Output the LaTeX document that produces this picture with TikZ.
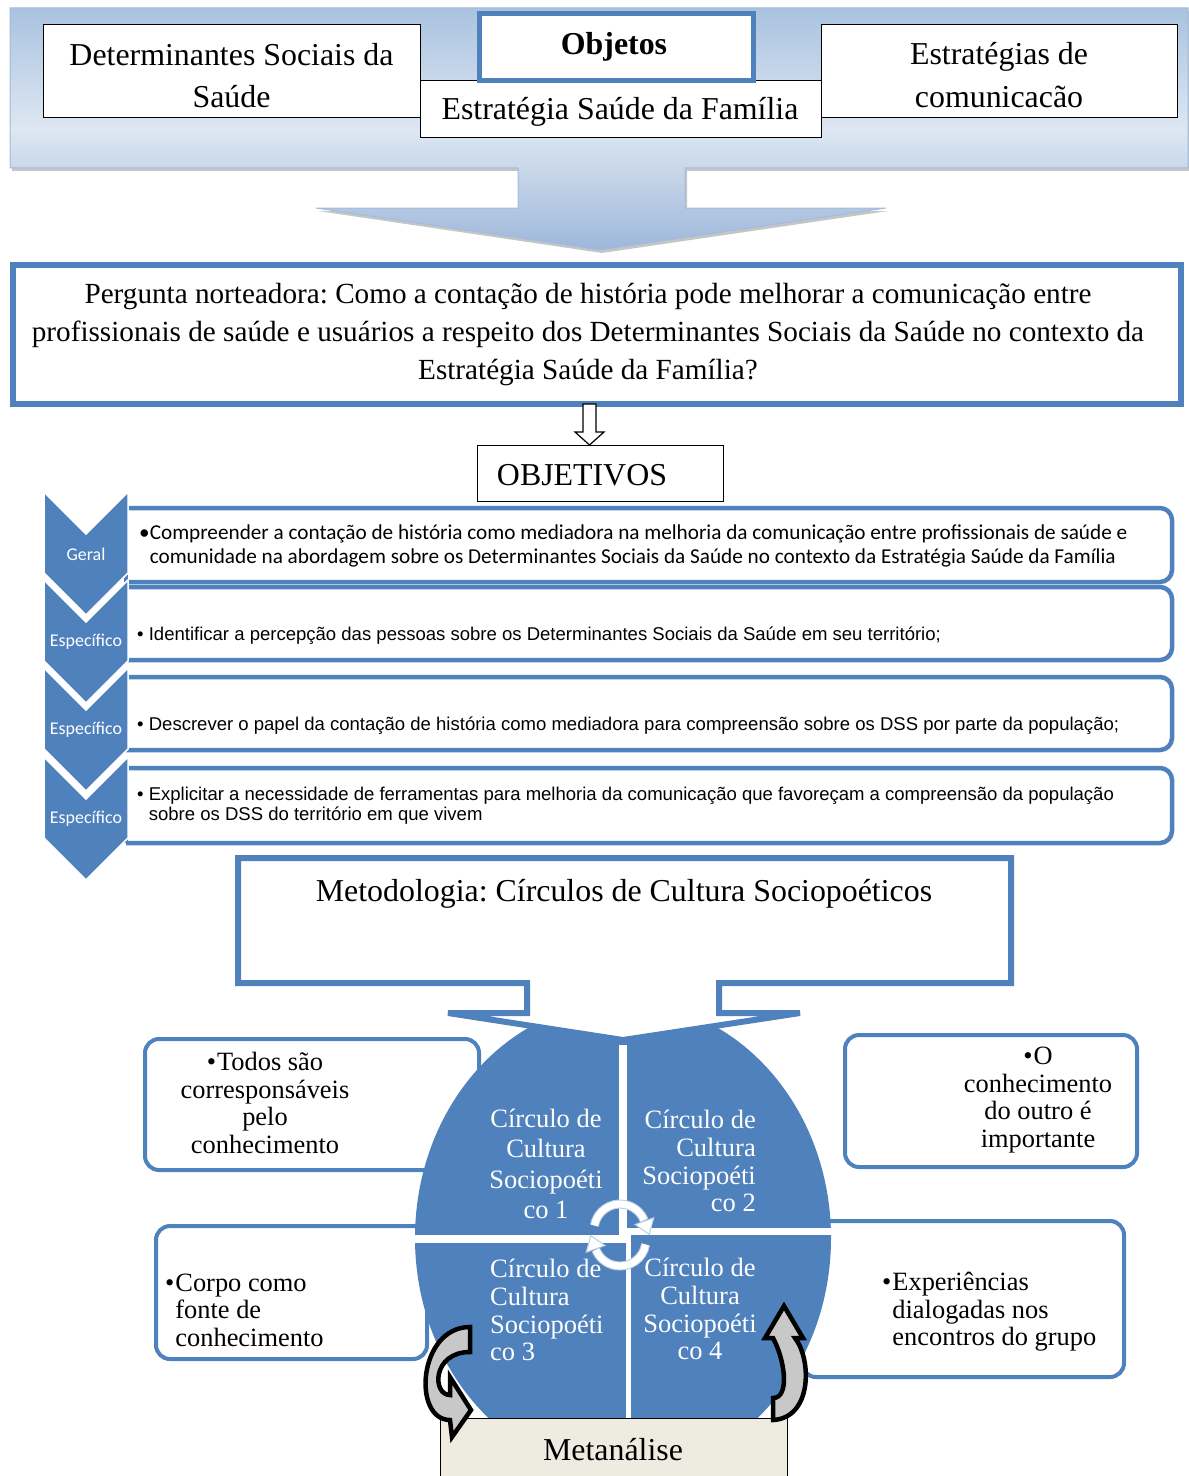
\documentclass[tikz,border=0pt]{standalone}
\usepackage{fontspec}
\setmainfont{Liberation Serif}
\newfontfamily\arialf{Liberation Sans}
\newfontfamily\calib{Carlito}
\usetikzlibrary{shadows,calc}
\frenchspacing
\definecolor{sblue}{HTML}{4F81BD}
\definecolor{bantop}{HTML}{A9C2E0}
\definecolor{banmid}{HTML}{DEE7F2}
\definecolor{banbot}{HTML}{9DB7DA}
\definecolor{banedge}{HTML}{A2BCDC}
\definecolor{beige}{HTML}{EEECE1}
\definecolor{lightarc}{HTML}{B9CDE5}
\definecolor{grayfill}{HTML}{C8C8C8}
\newcommand{\fsz}[2]{\fontsize{#1}{#2}\selectfont}
\tikzset{
  blkbox/.style={draw=black, line width=1.3bp, fill=white, inner sep=0},
  sidebox/.style={draw=sblue, line width=4bp, fill=white, rounded corners=14bp, inner sep=0},
  chev/.style={fill=sblue, draw=white, line width=1.5bp},
  chevlbl/.style={text=white, font=\calib\fsz{18}{20}, inner sep=0},
  tnr/.style={font=\fsz{32}{42}, align=center, inner sep=0},
  quad/.style={text=white, font=\fsz{26.6}{28}, inner sep=0},
  sidetxt/.style={font=\fsz{26.5}{27.5}, inner sep=0},
  objtxt/.style={font=\arialf\fsz{18.6}{20}, anchor=west, align=left, inner sep=0},
  objbox/.style={draw=sblue, line width=4.5bp, fill=white, rounded corners=12bp},
  curvarr/.style={fill=grayfill, draw=black, line width=4.5bp, line join=miter},
}
\begin{document}
\begin{tikzpicture}[x=1bp,y=-1bp]
\useasboundingbox (0,0) rectangle (1188,1476);
% ---------- top banner ----------
\path[top color=bantop, bottom color=banbot, middle color=banmid, draw=banedge, line width=1bp,
  drop shadow={shadow xshift=2bp, shadow yshift=-3bp, fill=black!45, opacity=0.5}]
  (10,8) -- (1188,8) -- (1188,168) -- (685,168) -- (685,208) -- (886,208) -- (600,250)
  -- (316,208) -- (518,208) -- (518,168) -- (10,168) -- cycle;
\node[blkbox, minimum width=401bp, minimum height=57bp, anchor=north west] (esfbox) at (420,80) {};
\node[blkbox, minimum width=377bp, minimum height=93bp, anchor=north west] (dssbox) at (43,24) {};
\node[blkbox, minimum width=356bp, minimum height=93bp, anchor=north west] (combox) at (821,24) {};
\node[draw=sblue, line width=5bp, fill=white, minimum width=274bp, minimum height=67bp, anchor=north west, inner sep=0] (objbox) at (477,11.5) {};
\node[tnr] (dsstxt) at (231.5,76) {Determinantes Sociais da\\Saúde};
\node[tnr] (esftxt) at (620,112) {Estratégia Saúde da Família};
\node[tnr, font=\bfseries\fsz{32}{42}] (objtxt) at (614,47) {Objetos};
\node[tnr, font=\fsz{32}{43}] (comtxt) at (999,75) {Estratégias de\\comunicacão};
% ---------- pergunta ----------
\node[draw=sblue, line width=5.5bp, fill=white, minimum width=1168bp, minimum height=139bp, anchor=north west, inner sep=0] (perg) at (10,262) {};
\node[font=\fsz{29.3}{38.5}, align=center, inner sep=0] (pergtxt) at (588,334.5)
  {Pergunta norteadora: Como a contação de história pode melhorar a comunicação entre\\
   profissionais de saúde e usuários a respeito dos Determinantes Sociais da Saúde no contexto da\\
   Estratégia Saúde da Família?};
% small hollow arrow
\draw[fill=white, line width=1.2bp] (583,404) -- (596,404) -- (596,432) -- (604,432) -- (589.5,445)
  -- (575,432) -- (583,432) -- cycle;
\node[blkbox, minimum width=246bp, minimum height=56bp, anchor=north west] (objetivos) at (477,445) {};
\node[tnr] (objetivostxt) at (582,475) {OBJETIVOS};
% ---------- objectives list ----------
\foreach \a/\b in {508/582, 587/660, 677/750, 768/843}{
  \filldraw[objbox] (126,\a) -- (1172,\a) -- (1172,\b) -- (126,\b);
  \draw[sblue, line width=4.5bp] (126,\a) -- (126,\b);
}
\foreach \t/\lab [count=\i] in {492/Geral, 580/Específico, 668/Específico, 757/Específico}{
  \draw[chev] (44,\t) -- (86,\t+42) -- (128,\t) -- (128,\t+81) -- (86,\t+123) -- (44,\t+81) -- cycle;
  \node[chevlbl] (chl\i) at (86,\t+62) {\lab};
}
\node[font=\calib\fsz{21.3}{24}, anchor=west, align=left, inner sep=0] (o1) at (139,546)
  {•Compreender a contação de história como mediadora na melhoria da comunicação entre profissionais de saúde e\\
   \phantom{•}comunidade na abordagem sobre os Determinantes Sociais da Saúde no contexto da Estratégia Saúde da Família};
\node[objtxt] (o2) at (137,636) {• Identificar a percepção das pessoas sobre os Determinantes Sociais da Saúde em seu território;};
\node[objtxt] (o3) at (137,726) {• Descrever o papel da contação de história como mediadora para compreensão sobre os DSS por parte da população;};
\node[objtxt] (o4) at (137,806) {• Explicitar a necessidade de ferramentas para melhoria da comunicação que favoreçam a compreensão da população\\
  \phantom{• }sobre os DSS do território em que vivem};
% ---------- side boxes ----------
\node[sidebox, minimum width=334bp, minimum height=131bp, anchor=north west] (sb1) at (143,1037) {};
\node[sidebox, minimum width=271bp, minimum height=133bp, anchor=north west] (sb2) at (154,1224) {};
\node[sidebox, minimum width=292bp, minimum height=132bp, anchor=north west] (sb3) at (843,1033) {};
\node[sidebox, minimum width=322bp, minimum height=156bp, anchor=north west] (sb4) at (800,1219) {};
\node[sidetxt, align=center] (t1) at (265,1103) {•\kern1bp Todos são\\corresponsáveis\\pelo\\conhecimento};
\node[sidetxt, align=left, anchor=west] (t2) at (165,1310) {•\kern1bp Corpo como\\\phantom{•\kern1bp}fonte de\\\phantom{•\kern1bp}conhecimento};
\node[sidetxt, align=center] (t3) at (1038,1100) {•\kern1bp O\\conhecimento\\do outro é\\importante};
\node[sidetxt, align=left, anchor=west] (t4) at (882,1312) {•\kern1bp Experiências\\\phantom{•\kern1bp}dialogadas nos\\\phantom{•\kern1bp}encontros do grupo};
% ---------- circle ----------
\fill[sblue] (623,1238) ellipse [x radius=208bp, y radius=236bp];
\fill[white] (618.5,1045) rectangle (627,1239);
\fill[white] (414,1235) rectangle (627,1243);
\fill[white] (622,1228) rectangle (833,1235);
\fill[white] (626,1231) rectangle (631,1424);
\node[quad, align=center, font=\fsz{26.6}{30.7}] (q1) at (546,1164) {Círculo de\\Cultura\\Sociopoéti\\co 1};
\node[quad, align=right, anchor=east] (q2) at (756,1161) {Círculo de\\Cultura\\Sociopoéti\\co 2};
\node[quad, align=left, anchor=west] (q3) at (490,1310) {Círculo de\\Cultura\\Sociopoéti\\co 3};
\node[quad, align=center] (q4) at (700,1309) {Círculo de\\Cultura\\Sociopoéti\\co 4};
% white circular arrows
\begin{scope}[shift={(620,1230)}]
\begin{scope}[x=1bp,y=1bp]
\draw[draw=lightarc, double=white, double distance=7bp, line width=1bp] (170:26) arc[start angle=170, end angle=22, radius=26bp];
\filldraw[fill=white, draw=lightarc, line width=1bp] (33.8,12.3) -- (29.2,-4.3) -- (15.0,5.5) -- cycle;
\end{scope}
\end{scope}
\begin{scope}[shift={(620,1240)}]
\begin{scope}[x=1bp,y=1bp]
\draw[draw=lightarc, double=white, double distance=7bp, line width=1bp] (-10:26) arc[start angle=-10, end angle=-158, radius=26bp];
\filldraw[fill=white, draw=lightarc, line width=1bp] (-33.8,-12.3) -- (-29.2,4.3) -- (-15.0,-5.5) -- cycle;
\end{scope}
\end{scope}
% ---------- metodologia arrow ----------
\path[draw=sblue, line width=6bp, fill=white] (238,858) -- (1011,858) -- (1011,983) -- (719,983) -- (719,1013)
  -- (800,1013) -- (623,1040) -- (448,1013) -- (527,1013) -- (527,983) -- (238,983) -- cycle;
\node[tnr] (mettxt) at (624,894) {Metodologia: Círculos de Cultura Sociopoéticos};
% ---------- metanalise ----------
\node[draw=black, line width=1.3bp, fill=beige, minimum width=347bp, minimum height=64bp, anchor=north west, inner sep=0] (meta) at (440,1418) {};
\node[tnr] (metatxt) at (613,1450) {Metanálise};
% ---------- black curved arrows ----------
\path[curvarr] (470,1327) .. controls (418,1327) and (412,1420) .. (450,1420) -- (452,1437) -- (471,1410)
  -- (450,1377) -- (450,1395) .. controls (432,1395) and (432,1352) .. (470,1352) -- cycle;
\path[curvarr] (773,1420) .. controls (812,1418) and (812,1360) .. (795,1338) -- (803,1338) -- (784,1306)
  -- (765,1338) -- (773,1338) .. controls (785,1360) and (790,1398) .. (773,1398) -- cycle;
\end{tikzpicture}
\end{document}
